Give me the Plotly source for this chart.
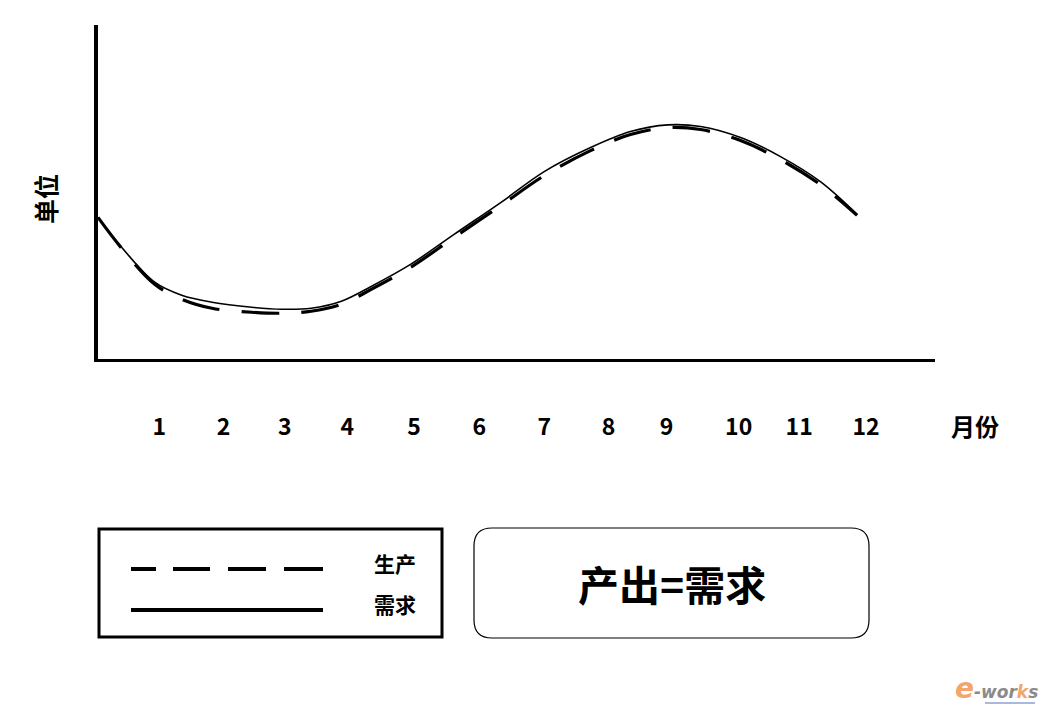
import plotly.graph_objects as go

# ---- data ----
months = ["1", "2", "3", "4", "5", "6", "7", "8", "9", "10", "11", "12"]
month_label_pos = [0.95, 1.95, 2.90, 3.87, 4.91, 5.92, 6.93, 7.93, 8.83, 9.95, 10.89, 11.93]

curve_x = [0.00, 0.37, 0.88, 1.30, 1.77, 2.39, 2.85, 3.31, 3.78, 4.25, 4.86, 5.53,
           6.26, 6.93, 7.65, 8.27, 8.85, 9.36, 9.98, 10.60, 11.22, 11.79]
demand = [42.4, 33.4, 23.0, 19.1, 17.0, 15.5, 14.9, 15.2, 17.3, 21.8, 28.4, 37.3,
          46.9, 56.1, 63.3, 68.1, 70.1, 69.6, 66.3, 60.6, 53.1, 43.3]
production = [42.4, 33.1, 22.4, 17.9, 15.2, 14.0, 13.7, 14.3, 16.4, 20.9, 27.5, 36.4,
              46.0, 54.9, 62.4, 67.2, 69.3, 68.7, 65.4, 59.7, 52.2, 43.0]

series_names = ["生产", "需求"]
x_title = "月份"
y_title = "单位"
box_text = "产出=需求"

FONT = "Noto Sans CJK SC"
W, H = 1048, 712
OFF = 8  # page body margin
L, R, T, B = 98 - OFF, 935 - OFF, 25 - OFF, 359 - OFF  # plot area in layout pixels


def px(xp):
    return (xp - OFF - L) / (R - L)


def py(yp):
    return (B - (yp - OFF)) / (B - T)


def label(x, y, text, size, angle=0, color="black", family=FONT, bold=True):
    return dict(x=px(x), y=py(y), xref="paper", yref="paper", text=text,
                xanchor="center", yanchor="middle", textangle=angle, showarrow=False,
                font=dict(family=family, size=size, color=color,
                          weight="bold" if bold else "normal"))


fig = go.Figure()
fig.add_trace(go.Scatter(x=curve_x, y=demand, mode="lines", name=series_names[1],
                         line=dict(color="black", width=1.6, shape="spline", smoothing=1.0)))
fig.add_trace(go.Scatter(x=curve_x, y=production, mode="lines", name=series_names[0],
                         line=dict(color="black", width=3.2, dash="38px,22px",
                                   shape="spline", smoothing=1.0)))

fig.update_layout(
    width=W, height=H,
    margin=dict(l=L, r=W - R, t=T, b=H - B),
    plot_bgcolor="white", paper_bgcolor="white",
    showlegend=False,
    font=dict(family=FONT, color="black"),
)
fig.update_xaxes(range=[0, 13], showline=True, linewidth=3, linecolor="black",
                 showgrid=False, zeroline=False, ticks="",
                 tickvals=month_label_pos, ticktext=months,
                 tickfont=dict(family=FONT, size=23, color="black", weight="bold"),
                 ticklabelstandoff=45)
fig.update_yaxes(range=[0, 100], showline=True, linewidth=4, linecolor="black",
                 showgrid=False, zeroline=False, showticklabels=False, ticks="")

ann = []
ann.append(label(975, 425, x_title, 24))
ann.append(label(45, 199, y_title, 25, angle=-90))

shapes = []
# legend box
shapes.append(dict(type="rect", xref="paper", yref="paper",
                   x0=px(99), x1=px(442), y0=py(529), y1=py(637),
                   line=dict(color="black", width=3)))
# dashed sample
for a, b in [(131, 156), (173, 210), (228, 266), (284, 323)]:
    shapes.append(dict(type="line", xref="paper", yref="paper",
                       x0=px(a), x1=px(b), y0=py(569), y1=py(569),
                       line=dict(color="black", width=4)))
# solid sample
shapes.append(dict(type="line", xref="paper", yref="paper",
                   x0=px(131), x1=px(323), y0=py(610), y1=py(610),
                   line=dict(color="black", width=4)))
ann.append(label(395, 563, series_names[0], 21))
ann.append(label(395, 604, series_names[1], 21))

# rounded box
x0, x1, y0, y1, r = 474, 869, 528, 638, 18
path = (f"M {px(x0 + r)},{py(y0)} L {px(x1 - r)},{py(y0)} "
        f"Q {px(x1)},{py(y0)} {px(x1)},{py(y0 + r)} "
        f"L {px(x1)},{py(y1 - r)} Q {px(x1)},{py(y1)} {px(x1 - r)},{py(y1)} "
        f"L {px(x0 + r)},{py(y1)} Q {px(x0)},{py(y1)} {px(x0)},{py(y1 - r)} "
        f"L {px(x0)},{py(y0 + r)} Q {px(x0)},{py(y0)} {px(x0 + r)},{py(y0)} Z")
shapes.append(dict(type="path", xref="paper", yref="paper", path=path,
                   line=dict(color="black", width=1.2)))
ann.append(label(672, 583, box_text, 41))

# watermark logo
ann.append(label(996, 688,
                 '<i><span style="color:#f2a66a;font-size:28px">e</span>-wor<span style="color:#f2a66a">k</span>s</i>',
                 17, color="#8a8a8a", family="DejaVu Sans"))
shapes.append(dict(type="line", xref="paper", yref="paper",
                   x0=px(985), x1=px(1035), y0=py(703), y1=py(703),
                   line=dict(color="#aab8e0", width=2)))

fig.update_layout(annotations=ann, shapes=shapes)
fig.write_html("out.html")
